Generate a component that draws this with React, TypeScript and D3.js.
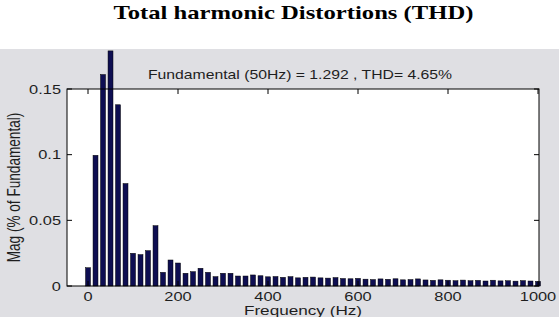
import React from 'react';
import * as d3 from 'd3';

// harmonic magnitudes, one bar every 50/3 Hz from 0 to 1000 Hz
const mag = [
  0.0139, 0.0995, 0.161, 0.179, 0.138, 0.078, 0.0249, 0.0239, 0.0269, 0.0459,
  0.0104, 0.0198, 0.0175, 0.0097, 0.0109, 0.0135, 0.0104, 0.0071, 0.0097, 0.0097,
  0.0076, 0.0076, 0.0084, 0.0078, 0.0070, 0.0072, 0.0066, 0.0071, 0.0062, 0.0066,
  0.0068, 0.0062, 0.0060, 0.0064, 0.0057, 0.0055, 0.0058, 0.0052, 0.0049, 0.0054,
  0.0051, 0.0055, 0.0047, 0.0049, 0.0054, 0.0046, 0.0043, 0.0047, 0.0044, 0.0040,
  0.0045, 0.0040, 0.0043, 0.0038, 0.0044, 0.0039, 0.0040, 0.0037, 0.0041, 0.0038,
  0.0035,
];
const freqStep = 50 / 3;
const xTicks = [0, 200, 400, 600, 800, 1000];
const yTicks = [0, 0.05, 0.1, 0.15];
const yTickLabels = ['0', '0.05', '0.1', '0.15'];

const W = 559;
const H = 317;
const box = { left: 67, right: 539, top: 89, bottom: 286 };
const sx = 1.3; // the source picture is stretched sideways
const matFont = '"Liberation Sans", Arial, sans-serif';
const ink = '#1e1e1e';

export default function App() {
  const x = d3.scaleLinear().domain([-46.7, 1002.2]).range([box.left, box.right]);
  const y = d3.scaleLinear().domain([0, 0.15]).range([box.bottom, box.top]);
  const barW = x(freqStep * 0.66) - x(0);

  return (
    <svg width={W} height={H} style={{ position: 'absolute', left: 0, top: 0 }}>
      <rect x={0} y={0} width={W} height={H} fill="#fff" />
      <text
        transform={`translate(${W / 2 + 14},19) scale(1.37,1)`}
        textAnchor="middle"
        fontFamily='"Liberation Serif", "Times New Roman", serif'
        fontWeight="bold"
        fontSize={18}
        fill="#000"
      >
        Total harmonic Distortions (THD)
      </text>

      <rect x={0} y={49} width={W} height={H - 49} fill="#dfdfe3" />
      <rect x={box.left} y={box.top} width={box.right - box.left} height={box.bottom - box.top} fill="#fff" />

      {mag.map((v, i) => (
        <rect
          key={i}
          x={x(i * freqStep) - barW / 2}
          y={y(v)}
          width={barW}
          height={y(0) - y(v)}
          fill="#0e0e52"
          stroke="#000"
          strokeWidth={0.5}
        />
      ))}

      <rect
        x={box.left}
        y={box.top}
        width={box.right - box.left}
        height={box.bottom - box.top}
        fill="none"
        stroke="#000"
        strokeWidth={1}
      />

      {xTicks.map(t => (
        <g key={t}>
          <line x1={x(t)} x2={x(t)} y1={box.bottom} y2={box.bottom - 5} stroke="#000" />
          <line x1={x(t)} x2={x(t)} y1={box.top} y2={box.top + 5} stroke="#000" />
          <text
            transform={`translate(${x(t)},301) scale(${sx},1)`}
            textAnchor="middle"
            fontFamily={matFont}
            fontSize={12.6}
            fill={ink}
          >
            {t}
          </text>
        </g>
      ))}

      {yTicks.map((t, i) => (
        <g key={t}>
          <line x1={box.left} x2={box.left + 5} y1={y(t)} y2={y(t)} stroke="#000" />
          <line x1={box.right} x2={box.right - 5} y1={y(t)} y2={y(t)} stroke="#000" />
          <text
            transform={`translate(61,${y(t) + 4.5}) scale(${sx},1)`}
            textAnchor="end"
            fontFamily={matFont}
            fontSize={12.6}
            fill={ink}
          >
            {yTickLabels[i]}
          </text>
        </g>
      ))}

      <text
        transform={`translate(300,79) scale(1.25,1)`}
        textAnchor="middle"
        fontFamily={matFont}
        fontSize={12.6}
        fill={ink}
      >
        Fundamental (50Hz) = 1.292 , THD= 4.65%
      </text>

      <text
        transform={`translate(303,315) scale(${sx},1)`}
        textAnchor="middle"
        fontFamily={matFont}
        fontSize={13.2}
        fill={ink}
      >
        Frequency (Hz)
      </text>

      <text
        transform={`translate(20,${(box.top + box.bottom) / 2}) scale(${sx},1) rotate(-90)`}
        textAnchor="middle"
        fontFamily={matFont}
        fontSize={13.6}
        fill={ink}
      >
        Mag (% of Fundamental)
      </text>
    </svg>
  );
}
